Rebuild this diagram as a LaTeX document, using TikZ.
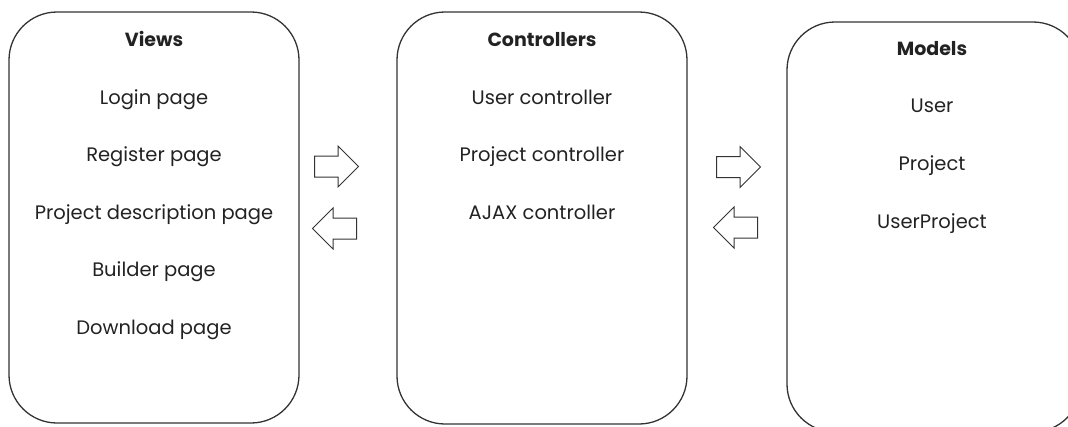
\documentclass[tikz,border=0pt]{standalone}
\usepackage{fontspec}
\setmainfont{Poppins}
\usetikzlibrary{shapes.arrows}
\definecolor{ink}{HTML}{222222}
\definecolor{edge}{HTML}{333333}
\begin{document}
\begin{tikzpicture}[x=1pt,y=-1pt,
  layer/.style={draw=edge,line width=1.3pt,rounded corners=48pt},
  title/.style={anchor=base,text=ink,font=\fontsize{19}{22}\selectfont\bfseries,inner sep=0pt},
  item/.style={anchor=base,text=ink,font=\fontsize{19.5}{22}\selectfont,inner sep=0pt},
  flow/.style={single arrow,draw=edge,line width=1pt,fill=white,inner sep=0pt,
    text width=0pt,text height=20pt,text depth=0pt,
    minimum height=44pt,single arrow head extend=10pt,
    single arrow tip angle=90,anchor=tail},
  back/.style={flow,shape border rotate=180}]
\useasboundingbox (0,0) rectangle (1068,426);

% the three layers
\draw[layer] (9,12) rectangle (299,423);
\draw[layer] (397,12) rectangle (687,424);
\draw[layer] (787,22) rectangle (1081,432);

% Views
\node[title] (vt) at (154,46) {Views};
\node[item] (v1) at (154,104) {Login page};
\node[item] (v2) at (154,161.5) {Register page};
\node[item] (v3) at (154,219) {Project description page};
\node[item] (v4) at (154,276.5) {Builder page};
\node[item] (v5) at (154,334) {Download page};

% Controllers
\node[title] (ct) at (542,46) {Controllers};
\node[item] (c1) at (542,104) {User controller};
\node[item] (c2) at (542,161.5) {Project controller};
\node[item] (c3) at (542,219) {AJAX controller};

% Models
\node[title] (mt) at (932,55) {Models};
\node[item] (m1) at (932,112) {User};
\node[item] (m2) at (932,170) {Project};
\node[item] (m3) at (932,228) {UserProject};

% request / response arrows (placed by their tails)
\node[flow] (vc) at (314,166.5) {};
\node[back] (cv) at (357,228.5) {};
\node[flow] (cm) at (716,167) {};
\node[back] (mc) at (758,227.5) {};
\end{tikzpicture}
\end{document}
